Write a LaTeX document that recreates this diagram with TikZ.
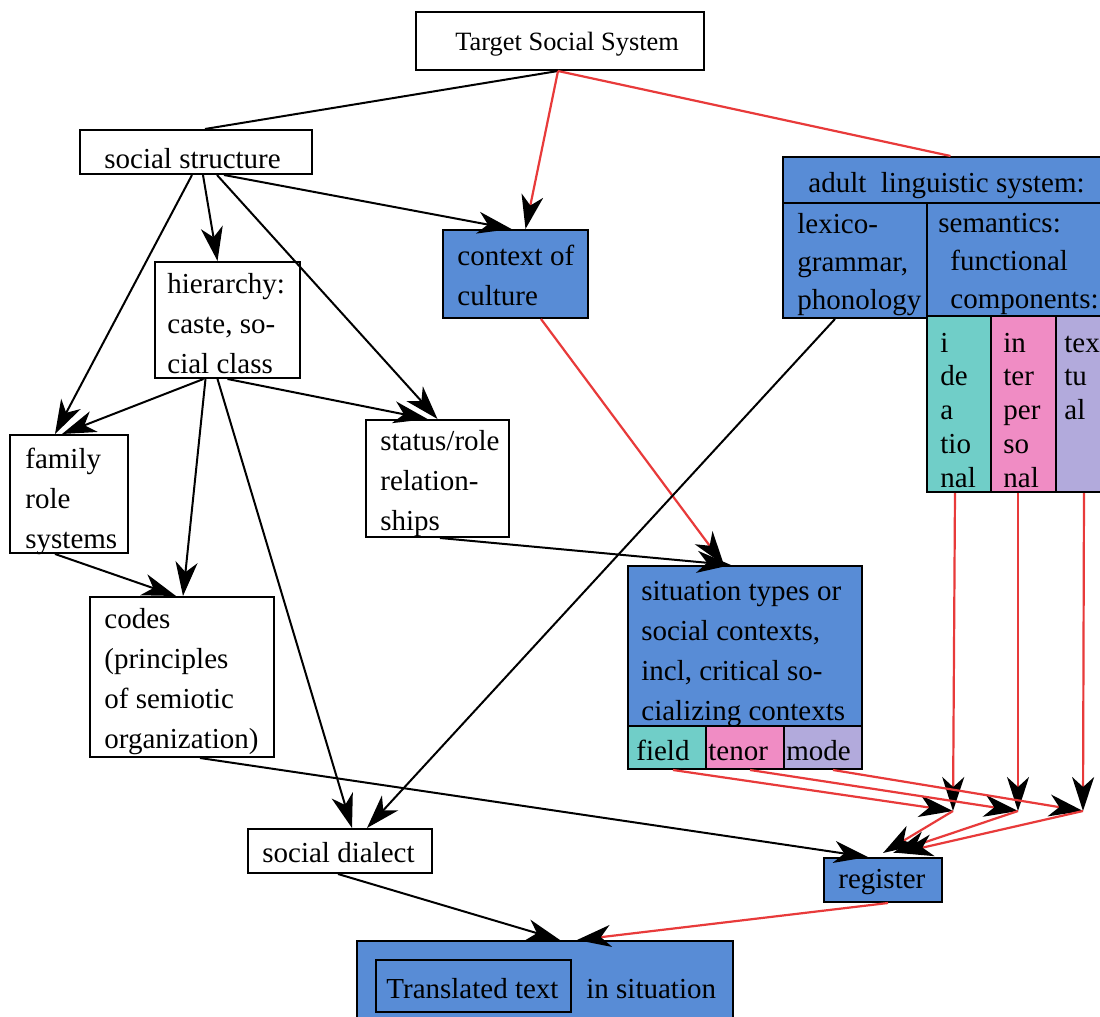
\documentclass[tikz,border=0pt]{standalone}
\usepackage{fontspec}
\setmainfont{Liberation Serif}
\usetikzlibrary{arrows.meta,fit}
\definecolor{boxblue}{RGB}{88,140,214}
\definecolor{idcyan}{RGB}{112,206,200}
\definecolor{ippink}{RGB}{240,140,196}
\definecolor{txlav}{RGB}{178,170,220}
\definecolor{linkred}{RGB}{232,58,58}
% stacked lines with a given line distance; baseline is the first line
\newcommand{\boxlines}[2]{{\fontsize{14.5}{#1}\selectfont\begin{tabular}[t]{@{}l@{}}#2\end{tabular}}}

\begin{document}
\begin{tikzpicture}[x=0.5pt,y=-0.5pt,
  boxline/.style={draw=black,line width=1pt,inner sep=0pt},
  bluebox/.style={boxline,fill=boxblue},
  lbl/.style={inner sep=0pt,anchor=base west,font=\fontsize{14.5}{20}\selectfont},
  conn/.style={line width=1pt,draw=black},
  redconn/.style={line width=1.1pt,draw=linkred},
  headed/.style={-{Stealth[color=black,length=17pt,width=11pt,inset=5pt]}}
]
\useasboundingbox (0,0) rectangle (1100,1017);
\clip (0,0) rectangle (1100,1017);
\fill[white] (0,0) rectangle (1100,1017);

% ---- boxes ----
\node[boxline,fit={(416,12) (704,70)}] (tss) {};
\node[boxline,fit={(80,130) (312,174)}] (ss) {};
\node[bluebox,fit={(783,157) (1110,203)}] (als) {};
\node[bluebox,fit={(783,203) (927,318)}] (lex) {};
\node[bluebox,fit={(927,203) (1110,316)}] (sem) {};
\node[boxline,fill=idcyan,fit={(927,316) (991,492)}] (idea) {};
\node[boxline,fill=ippink,fit={(991,316) (1056,492)}] (inter) {};
\node[boxline,fill=txlav,fit={(1056,316) (1110,492)}] (textl) {};
\node[bluebox,fit={(443,230) (588,318)}] (coc) {};
\node[boxline,fit={(155,262) (300,378)}] (hier) {};
\node[boxline,fit={(10,435) (128,553)}] (fam) {};
\node[boxline,fit={(366,420) (509,537)}] (stat) {};
\node[boxline,fit={(90,597) (274,757)}] (codes) {};
\node[boxline,fit={(248,829) (432,873)}] (sd) {};
\node[bluebox,fit={(628,566) (862,726)}] (sit) {};
\node[boxline,fill=idcyan,fit={(628,726) (706,769)}] (field) {};
\node[boxline,fill=ippink,fit={(706,726) (784,769)}] (tenor) {};
\node[boxline,fill=txlav,fit={(784,726) (862,769)}] (mode) {};
\node[bluebox,fit={(824,858) (942,902)}] (reg) {};
\node[bluebox,fit={(357,941) (733,1030)}] (tt) {};
\node[boxline,fit={(376,960) (571,1012)}] (ttin) {};

% ---- texts ----
\node[lbl,font=\fontsize{13.2}{16}\selectfont] (tssT) at (455,50) {Target Social System};
\node[lbl] (ssT) at (104,168) {social structure};
\node[lbl] (alsT) at (808,192) {adult\ \ linguistic system:};
\node[lbl] (lexT) at (797,233) {\boxlines{19.25}{lexico-\\grammar,\\phonology}};
\node[lbl] (semT) at (938,232) {\boxlines{19.25}{semantics:\\\hspace{6pt}functional\\\hspace{6pt}components:}};
\node[lbl] (ideaT) at (940,352) {\boxlines{16.9}{i\\de\\a\\tio\\nal}};
\node[lbl] (interT) at (1003,352) {\boxlines{16.9}{in\\ter\\per\\so\\nal}};
\node[lbl] (textlT) at (1064,352) {\boxlines{16.9}{tex\\tu\\al}};
\node[lbl] (cocT) at (457,265) {\boxlines{20}{context of\\culture}};
\node[lbl] (hierT) at (167,293) {\boxlines{20}{hierarchy:\\caste, so-\\cial class}};
\node[lbl] (famT) at (25,468) {\boxlines{20}{family\\role\\systems}};
\node[lbl] (statT) at (380,450) {\boxlines{20}{status/role\\relation-\\ships}};
\node[lbl] (codesT) at (104,628) {\boxlines{20}{codes\\(principles\\of semiotic\\organization)}};
\node[lbl] (sdT) at (262,862) {social dialect};
\node[lbl] (sitT) at (641,600) {\boxlines{20}{situation types or\\social contexts,\\incl, critical so-\\cializing contexts}};
\node[lbl] (fieldT) at (636,760) {field};
\node[lbl] (tenorT) at (708,760) {tenor};
\node[lbl] (modeT) at (786,760) {mode};
\node[lbl] (regT) at (838,888) {register};
\node[lbl] (ttinT) at (386,998) {Translated text};
\node[lbl] (ttT) at (586,998) {in situation};

% ---- meeting points of the register inputs ----
\coordinate (j1) at (953,811);
\coordinate (j2) at (1018,811);
\coordinate (j3) at (1083,811);

% ---- connectors ----
\draw[conn] ([xshift=-1pt]tss.south) -- ([xshift=4.5pt]ss.north);
\draw[redconn,headed] ([xshift=-1pt]tss.south) -- ([xshift=5pt]coc.north);
\draw[redconn] ([xshift=-1pt]tss.south) -- ([xshift=2pt]als.north);
\draw[conn,headed] ([xshift=-2pt]ss.south) -- ([xshift=-7pt]fam.north);
\draw[conn,headed] ([xshift=3.5pt]ss.south) -- ([xshift=-5pt]hier.north);
\draw[conn,headed] ([xshift=10.5pt]ss.south) -- (stat.north);
\draw[conn,headed] ([xshift=14pt]ss.south) -- ([xshift=-2pt]coc.north);
\draw[conn,headed] ([xshift=-12pt]hier.south) -- ([xshift=-3.5pt]fam.north);
\draw[conn,headed] ([xshift=-11pt]hier.south) -- ([xshift=0.5pt]codes.north);
\draw[conn,headed] (hier.south) -- ([xshift=-5pt]stat.north);
\draw[conn,headed] ([xshift=-5pt]hier.south) -- ([xshift=6pt]sd.north);
\draw[conn,headed] ([xshift=-7pt]fam.south) -- ([xshift=-3pt]codes.north);
\draw[conn,headed] ([xshift=1.25pt]stat.south) -- ([xshift=-7pt]sit.north);
\draw[redconn,headed] ([xshift=12.75pt]coc.south) -- ([xshift=-10.5pt]sit.north);
\draw[conn,headed] ([xshift=-10pt]lex.south) -- ([xshift=13.5pt]sd.north);
\draw[conn,headed] ([xshift=9pt]codes.south) -- ([xshift=-7.5pt]reg.north);
\draw[conn,headed] ([xshift=-1pt]sd.south) -- ([xshift=7.5pt]tt.north);
\draw[redconn,headed] ([xshift=2.5pt]reg.south) -- ([xshift=16pt]tt.north);
\draw[redconn,headed] ([xshift=-2pt]idea.south) -- (j1);
\draw[redconn,headed] ([xshift=-2.75pt]inter.south) -- (j2);
\draw[redconn,headed] ([xshift=0.5pt]textl.south) -- (j3);
\draw[redconn,headed] ([xshift=3pt]field.south) -- (j1);
\draw[redconn,headed] ([xshift=2.5pt]tenor.south) -- (j2);
\draw[redconn,headed] ([xshift=5pt]mode.south) -- (j3);
\draw[redconn,headed] (j1) -- ([yshift=2pt]reg.north);
\draw[redconn,headed] (j2) -- ([xshift=5pt,yshift=2pt]reg.north);
\draw[redconn,headed] (j3) -- ([xshift=8pt,yshift=2pt]reg.north);
\end{tikzpicture}
\end{document}
